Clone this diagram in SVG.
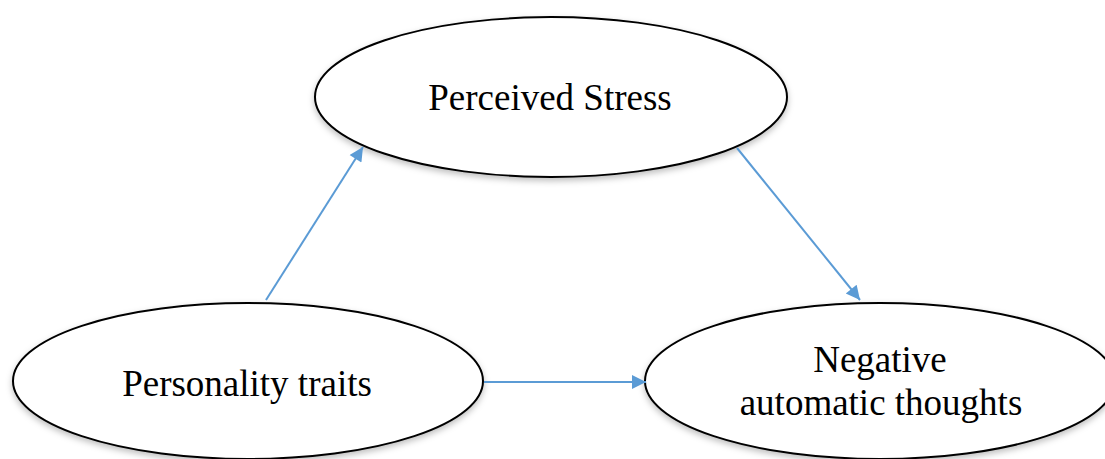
<svg xmlns="http://www.w3.org/2000/svg" width="1105" height="459" viewBox="0 0 1105 459">
<style>
.node{fill:#fff;stroke:#000;stroke-width:2;filter:url(#sh)}
.lbl{font-family:"Liberation Serif","Times New Roman",serif;font-size:37px;fill:#000;text-anchor:middle}
.edge{stroke:#5B9BD5;stroke-width:2;fill:none;marker-end:url(#ah)}
</style>
<defs>
<filter id="sh" x="-10%" y="-10%" width="120%" height="130%">
<feDropShadow dx="0" dy="3" stdDeviation="3" flood-color="#000" flood-opacity="0.25"/>
</filter>
<marker id="ah" viewBox="0 0 10 10" refX="10" refY="5" markerWidth="8" markerHeight="7" markerUnits="strokeWidth" orient="auto">
<path d="M0,0 L10,5 L0,10 z" fill="#5B9BD5"/>
</marker>
</defs>
<g id="stress">
<ellipse class="node" cx="551" cy="97" rx="236" ry="80"/>
<text class="lbl" x="550" y="110">Perceived Stress</text>
</g>
<g id="personality">
<ellipse class="node" cx="248" cy="381" rx="235" ry="78"/>
<text class="lbl" x="247" y="396">Personality traits</text>
</g>
<g id="negative">
<ellipse class="node" cx="880" cy="381" rx="235" ry="78"/>
<text class="lbl" x="880" y="372">Negative</text>
<text class="lbl" x="881" y="415">automatic thoughts</text>
</g>
<g id="connectors">
<line class="edge" x1="266" y1="300" x2="363" y2="147"/>
<line class="edge" x1="737" y1="148" x2="860" y2="300"/>
<line class="edge" x1="484" y1="382" x2="646" y2="382"/>
</g>
</svg>
